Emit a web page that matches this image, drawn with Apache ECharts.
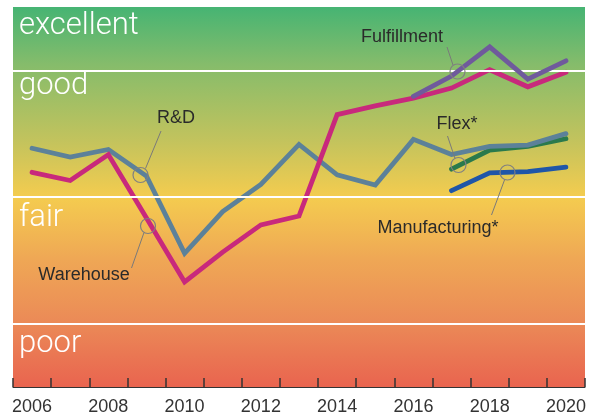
<!DOCTYPE html>
<html>
<head>
<meta charset="utf-8">
<script src="https://cdn.jsdelivr.net/npm/echarts@6/dist/echarts.min.js"></script>
<style>html,body{margin:0;padding:0;background:#fff;}#c{width:590px;height:417px;}</style>
</head>
<body>
<div id="c"></div>
<script>
const years = ['2006','2007','2008','2009','2010','2011','2012','2013','2014','2015','2016','2017','2018','2019','2020'];
const rd =          [3.77,3.63,3.75,3.33,2.11,2.77,3.20,3.83,3.35,3.19,3.91,3.67,3.80,3.82,4.00];
const warehouse =   [3.39,3.26,3.67,2.67,1.66,2.13,2.56,2.70,4.30,4.44,4.56,4.72,5.01,4.74,4.97];
const fulfillment = [null,null,null,null,null,null,null,null,null,null,4.59,4.91,5.37,4.86,5.15];
const flex =        [null,null,null,null,null,null,null,null,null,null,null,3.44,3.74,3.80,3.92];
const manufacturing=[null,null,null,null,null,null,null,null,null,null,null,3.10,3.38,3.40,3.47];
const bandNames = ['excellent','good','fair','poor'];
const bandLines = [5,3,1];

const chart = echarts.init(document.getElementById('c'), null, {renderer:'canvas'});
const W = 4.8;
function line(name, data, color, z){
  return {name, type:'line', data, symbol:'none', z, connectNulls:false,
    lineStyle:{color, width:W, cap:'round', join:'miter'}, itemStyle:{color}};
}
const labelFont = {fontFamily:'Liberation Sans, Arial, sans-serif', fontSize:18, fill:'#2a2a2a'};
const bandFont = {fontFamily:'Roboto, Liberation Sans, sans-serif', fontWeight:300, fontSize:31, fill:'#ffffff'};
const series = [
  line('Flex', flex, '#2a7a4c', 2),
  line('R&D', rd, '#5c8199', 3),
  line('Warehouse', warehouse, '#c8297c', 4),
  line('Fulfillment', fulfillment, '#6f5a9c', 5),
  line('Manufacturing', manufacturing, '#1f56a8', 5)
];
series[1].markLine = {silent:true, symbol:'none', label:{show:false},
  lineStyle:{color:'#ffffff', width:1.8, type:'solid'},
  data: bandLines.map(v=>({yAxis:v}))};

chart.setOption({
  animation:false,
  grid:{left:13,right:5,top:7,bottom:30,show:true,borderWidth:0,
    backgroundColor:{type:'linear',x:0,y:0,x2:0,y2:1,colorStops:[
      {offset:0,color:'#46b473'},
      {offset:0.15,color:'#85bc6b'},
      {offset:0.35,color:'#c2c35d'},
      {offset:0.5,color:'#f4cc4f'},
      {offset:0.66,color:'#efa855'},
      {offset:0.83,color:'#eb8a57'},
      {offset:1,color:'#e9644f'}]}},
  xAxis:{type:'category', data:years, boundaryGap:true,
    axisLine:{show:true,lineStyle:{color:'#333',width:1}},
    axisTick:{show:true,inside:true,length:9,interval:0,lineStyle:{color:'#333',width:1.5}},
    axisLabel:{interval:1,color:'#333',fontSize:18,fontFamily:'Liberation Sans, Arial, sans-serif',margin:11},
    splitLine:{show:false}},
  yAxis:{type:'value',min:0,max:6,show:false,splitLine:{show:false}},
  series,
  graphic:[
    {type:'text',left:19,top:11,style:Object.assign({text:bandNames[0]},bandFont)},
    {type:'text',left:19,top:71,style:Object.assign({text:bandNames[1]},bandFont)},
    {type:'text',left:19,top:203,style:Object.assign({text:bandNames[2]},bandFont)},
    {type:'text',left:19,top:329,style:Object.assign({text:bandNames[3]},bandFont)},
    // annotations
    {type:'text',x:402,y:37,style:Object.assign({text:'Fulfillment',align:'center',verticalAlign:'middle'},labelFont),z:10},
    {type:'line',shape:{x1:447,y1:47,x2:453,y2:65},style:{stroke:'#7a7a7a',lineWidth:1},z:10},
    {type:'circle',shape:{cx:457.5,cy:71.5,r:7.5},style:{fill:'none',stroke:'#808080',lineWidth:1.2},z:10},

    {type:'text',x:176,y:118,style:Object.assign({text:'R&D',align:'center',verticalAlign:'middle'},labelFont),z:10},
    {type:'line',shape:{x1:161,y1:131,x2:145.5,y2:168.5},style:{stroke:'#7a7a7a',lineWidth:1},z:10},
    {type:'circle',shape:{cx:140.5,cy:175,r:7.5},style:{fill:'none',stroke:'#808080',lineWidth:1.2},z:10},

    {type:'text',x:84,y:275,style:Object.assign({text:'Warehouse',align:'center',verticalAlign:'middle'},labelFont),z:10},
    {type:'line',shape:{x1:131.5,y1:268,x2:144,y2:232.5},style:{stroke:'#7a7a7a',lineWidth:1},z:10},
    {type:'circle',shape:{cx:148,cy:226,r:7.5},style:{fill:'none',stroke:'#808080',lineWidth:1.2},z:10},

    {type:'text',x:457,y:124,style:Object.assign({text:'Flex*',align:'center',verticalAlign:'middle'},labelFont),z:10},
    {type:'line',shape:{x1:447.5,y1:136,x2:455,y2:158.5},style:{stroke:'#7a7a7a',lineWidth:1},z:10},
    {type:'circle',shape:{cx:458.5,cy:165,r:7.5},style:{fill:'none',stroke:'#808080',lineWidth:1.2},z:10},

    {type:'text',x:438,y:228,style:Object.assign({text:'Manufacturing*',align:'center',verticalAlign:'middle'},labelFont),z:10},
    {type:'line',shape:{x1:491.5,y1:215,x2:504.5,y2:180},style:{stroke:'#7a7a7a',lineWidth:1},z:10},
    {type:'circle',shape:{cx:507.5,cy:172.5,r:7.5},style:{fill:'none',stroke:'#808080',lineWidth:1.2},z:10}
  ]
});
</script>
</body>
</html>
